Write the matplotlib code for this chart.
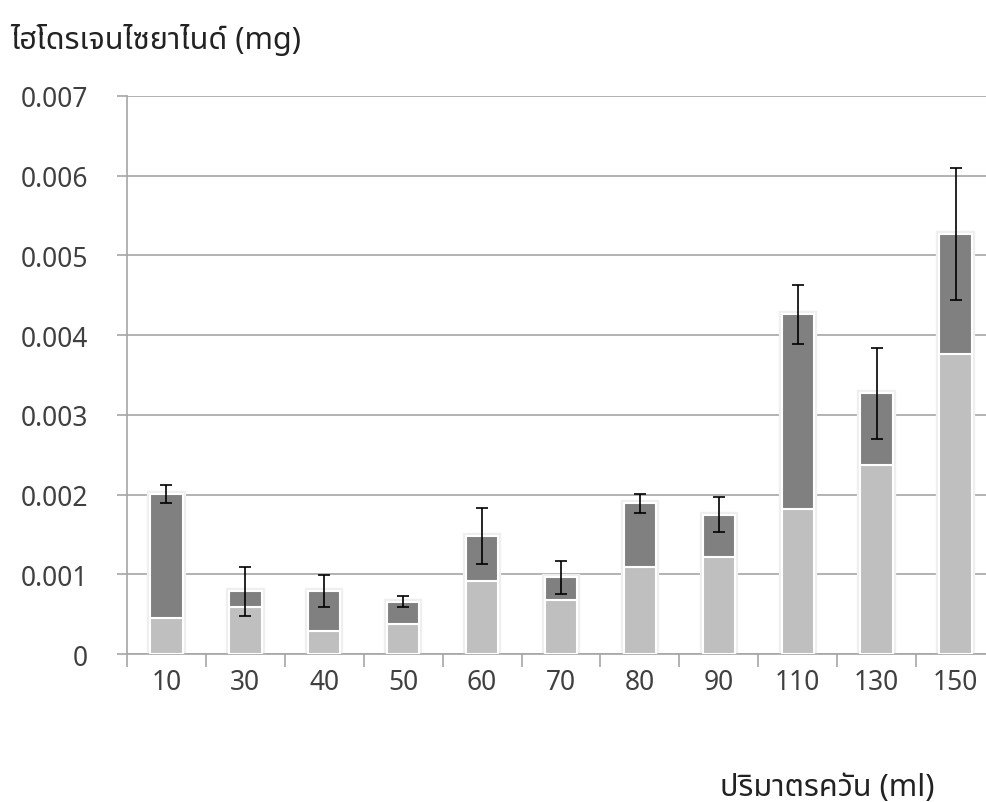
import matplotlib
matplotlib.use("Agg")
import matplotlib.pyplot as plt
import numpy as np

categories = ["10", "30", "40", "50", "60", "70", "80", "90", "110", "130", "150"]
lower = [0.000448, 0.000594, 0.000285, 0.000380, 0.000912, 0.000678, 0.00109, 0.00122, 0.00182, 0.00237, 0.00376]
total = [0.00201, 0.000787, 0.00079, 0.000656, 0.00148, 0.000962, 0.00189, 0.00175, 0.00426, 0.00327, 0.00527]
err = [0.00011, 0.00031, 0.00020, 0.00007, 0.00035, 0.00021, 0.00012, 0.00022, 0.00037, 0.00057, 0.00083]
yticks = [0, 0.001, 0.002, 0.003, 0.004, 0.005, 0.006, 0.007]
ytick_labels = ["0", "0.001", "0.002", "0.003", "0.004", "0.005", "0.006", "0.007"]

plt.rcParams["font.family"] = ["Noto Sans Thai", "Loma", "Garuda", "Noto Sans", "DejaVu Sans"]
plt.rcParams["font.weight"] = "light"

upper = [t - l for t, l in zip(total, lower)]
x = np.arange(len(categories))

fig = plt.figure(figsize=(9.87, 8.03), dpi=100)
ax = fig.add_axes([127 / 987, 1 - 655 / 803, (995 - 127) / 987, (655 - 97) / 803])

w = 0.41
grid_c = "#a6a6a6"
# soft halo around each bar
ax.bar(x, total, width=w, color="none", edgecolor="#efefef", linewidth=4.5, zorder=2)
ax.bar(x, lower, width=w, color="#bfbfbf", edgecolor="white", linewidth=1.5, zorder=3)
ax.bar(x, upper, bottom=lower, width=w, color="#808080", edgecolor="white", linewidth=1.5, zorder=3)
ax.errorbar(x, total, yerr=err, fmt="none", ecolor="black", elinewidth=1.2,
            capsize=4.5, capthick=1.2, zorder=4)

ax.set_xlim(-0.5, len(categories) - 0.5)
ax.set_ylim(0, 0.007)
ax.set_yticks(yticks)
ax.set_yticklabels(ytick_labels)
ax.yaxis.grid(True, color=grid_c, linewidth=1.2, zorder=0)
ax.set_axisbelow(True)

ax.set_xticks(np.arange(len(categories) + 1) - 0.5)
ax.set_xticklabels([])
ax.set_xticks(x, minor=True)
ax.set_xticklabels(categories, minor=True)
ax.tick_params(axis="x", which="major", length=9, width=1.2, color=grid_c, direction="out")
ax.tick_params(axis="x", which="minor", length=0, pad=10, labelsize=19, labelcolor="#404040")
ax.tick_params(axis="y", length=7, width=1.2, color=grid_c, pad=21, labelsize=19, labelcolor="#404040")

for s in ["top", "right"]:
    ax.spines[s].set_visible(False)
for s in ["left", "bottom"]:
    ax.spines[s].set_color(grid_c)
    ax.spines[s].set_linewidth(1.2)

fig.text(10 / 987, 1 - 40 / 803, "ไฮโดรเจนไซยาไนด์ (mg)", fontsize=22, color="#222222", va="center", ha="left")
fig.text(720 / 987, 1 - 788 / 803, "ปริมาตรควัน (ml)", fontsize=22, color="#222222", va="center", ha="left")

fig.savefig("out.png", dpi=100)
